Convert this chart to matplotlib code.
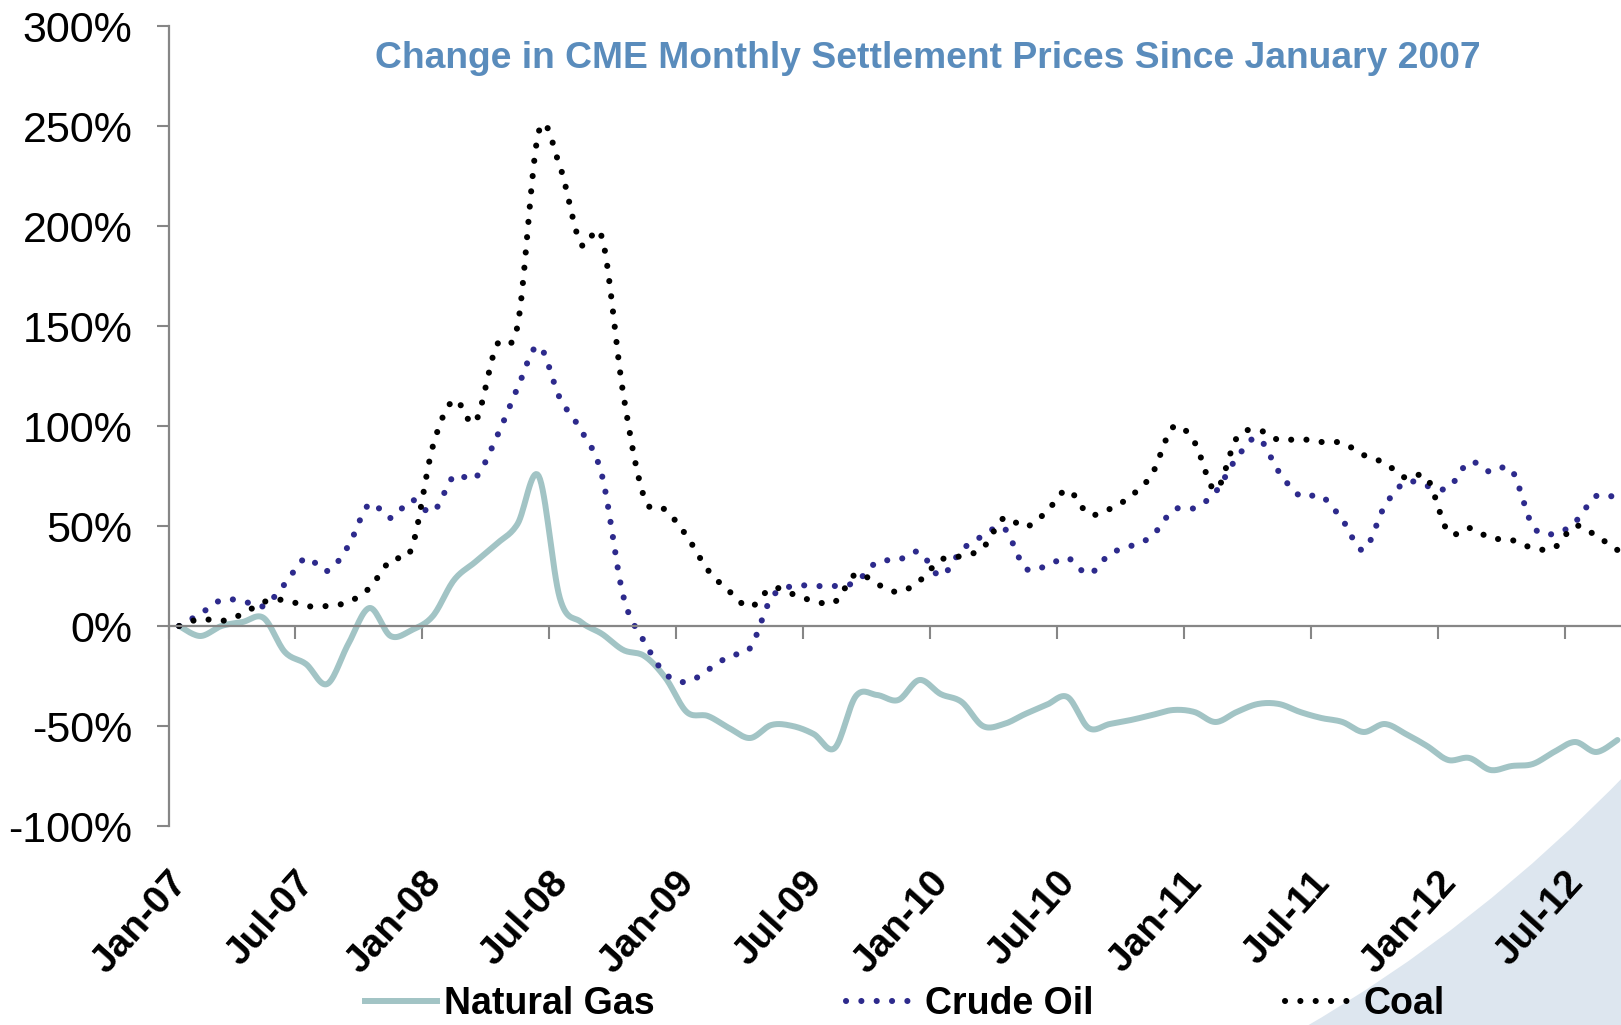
import numpy as np
import matplotlib
matplotlib.use('Agg')
import matplotlib.pyplot as plt
from matplotlib.lines import Line2D
from matplotlib.path import Path
from matplotlib.patches import PathPatch

plt.rcParams['font.family'] = ['Liberation Sans', 'DejaVu Sans']

# monthly change since Jan-07 (%), Jan-07 .. Sep-12
natural_gas = [0, -5, 0, 2, 4, -13, -19, -29, -9, 9, -5, -2,
               5, 23, 32, 41, 51, 75, 14, 2, -4, -12, -15, -26,
               -43, -45, -51, -56, -49.5, -50, -54, -61, -35, -34.5, -37, -27,
               -34, -38, -50, -49, -44, -39.5, -35.5, -51, -49, -47, -44.5, -42,
               -43, -48, -43, -39, -39, -43, -46, -48, -53, -49, -54, -60,
               -67, -66, -72, -70, -69, -63, -58, -63, -57]
crude_oil = [0, 6, 13, 12.5, 10, 21, 34, 27.5, 40, 61, 54, 63,
             57, 75, 74, 94, 119, 140, 114, 98, 75, 15, -8, -24,
             -28, -22, -15, -11, 14, 20, 20, 20, 22, 32, 33, 37,
             25, 38, 45, 49, 29, 30, 34, 26, 36, 40, 45, 58,
             59, 67, 84, 94, 77, 65, 65, 53, 38, 60, 72, 70,
             69, 82, 77, 78, 50, 46, 52, 65, 64]
coal = [0, 3.5, 2.5, 6, 12, 13, 10, 10, 12, 19, 33, 39,
        90, 113, 102, 140, 150, 247, 230, 191, 194, 116, 64, 58,
        45, 28, 17.5, 9.5, 19, 16, 12.5, 12, 26, 21, 17, 22.5,
        33, 35, 39, 54, 49.5, 57, 68, 56, 58.5, 65, 76, 99.5,
        92, 68, 94, 98, 93, 93.5, 92, 91.5, 85.5, 81.5, 74, 74,
        47, 49, 44, 43, 39, 39, 50, 45, 38]
series_names = ['Natural Gas', 'Crude Oil', 'Coal']
x_labels = ['Jan-07', 'Jul-07', 'Jan-08', 'Jul-08', 'Jan-09', 'Jul-09',
            'Jan-10', 'Jul-10', 'Jan-11', 'Jul-11', 'Jan-12', 'Jul-12']
title = 'Change in CME Monthly Settlement Prices Since January 2007'

GAS = '#A2C4C5'
CRUDE = '#2D2A8C'
COAL = '#000000'
AXIS = '#868686'
DOT_LW = 4.4
DOTS = (0, (0.01, 2.5))


def smooth(vals, n=16):
    # excel style smoothed line (bezier through the points)
    y = np.asarray(vals, dtype=float)
    pts = np.column_stack([np.arange(len(y), dtype=float), y])
    p = np.vstack([pts[0], pts, pts[-1]])
    t = np.linspace(0, 1, n, endpoint=False)[:, None]
    out = []
    for i in range(len(pts) - 1):
        p0, p1, p2, p3 = p[i], p[i + 1], p[i + 2], p[i + 3]
        c1 = p1 + (p2 - p0) / 6
        c2 = p2 - (p3 - p1) / 6
        out.append((1 - t) ** 3 * p1 + 3 * (1 - t) ** 2 * t * c1
                   + 3 * (1 - t) * t ** 2 * c2 + t ** 3 * p2)
    out.append(pts[-1:])
    s = np.vstack(out)
    return s[:, 0], s[:, 1]


W, H = 1621, 1025
fig = plt.figure(figsize=(W / 100, H / 100), dpi=100)

# light swoosh in the lower right corner
sw = [(1300, 1030), (1477, 929), (1630, 770), (1630, 1030), (1300, 1030)]
sw = [(x / W, 1 - y / H) for x, y in sw]
swoosh = PathPatch(Path(sw, [Path.MOVETO, Path.CURVE3, Path.CURVE3, Path.LINETO, Path.CLOSEPOLY]),
                   transform=fig.transFigure, facecolor='#DDE6EF', edgecolor='none', zorder=-5)
fig.patches.append(swoosh)

ax = fig.add_axes([168.5 / W, (H - 826) / H, 1459.5 / W, 800 / H])
ax.set_facecolor('none')

x, y = smooth(natural_gas)
ax.plot(x, y, color=GAS, lw=4.3, solid_capstyle='round')
x, y = smooth(crude_oil)
ax.plot(x, y, color=CRUDE, lw=DOT_LW, ls=DOTS, dash_capstyle='round')
x, y = smooth(coal)
ax.plot(x, y, color=COAL, lw=DOT_LW, ls=DOTS, dash_capstyle='round')

ax.set_xlim(-0.5, 68.5)
ax.set_ylim(-100, 300)

for s in ['top', 'right']:
    ax.spines[s].set_visible(False)
ax.spines['bottom'].set_position(('data', 0))
for s in ['left', 'bottom']:
    ax.spines[s].set_color(AXIS)
    ax.spines[s].set_linewidth(1.6)

ax.set_xticks(np.arange(-0.5, 68.5, 6))
ax.tick_params(axis='x', length=9, width=1.5, color=AXIS, direction='out', labelbottom=False)
yt = np.arange(-100, 301, 50)
ax.set_yticks(yt)
ax.set_yticklabels([f'{v}%' for v in yt])
ax.tick_params(axis='y', length=9, width=1.5, color=AXIS, direction='out', pad=17, labelsize=31)

for i, lab in enumerate(x_labels):
    ax.text(i * 6 + 0.1, -0.064, lab, transform=ax.get_xaxis_transform(), rotation=48,
            rotation_mode='anchor', ha='right', va='center', fontsize=28, fontweight='bold')

fig.text(927.5 / W, 1 - 58 / H, title, ha='center', va='center', fontsize=26.8,
         fontweight='bold', color='#5A8CBC')

handles = [Line2D([], [], color=GAS, lw=4.3),
           Line2D([], [], color=CRUDE, lw=DOT_LW, ls=DOTS, dash_capstyle='round'),
           Line2D([], [], color=COAL, lw=DOT_LW, ls=DOTS, dash_capstyle='round')]
fig.legend(handles, series_names, loc='center', bbox_to_anchor=(905 / W, 21 / H), ncol=3,
           frameon=False, prop={'weight': 'bold', 'size': 27}, handlelength=1.9,
           handletextpad=0.2, columnspacing=5.1, borderaxespad=0)

fig.savefig('out.png', dpi=100)
